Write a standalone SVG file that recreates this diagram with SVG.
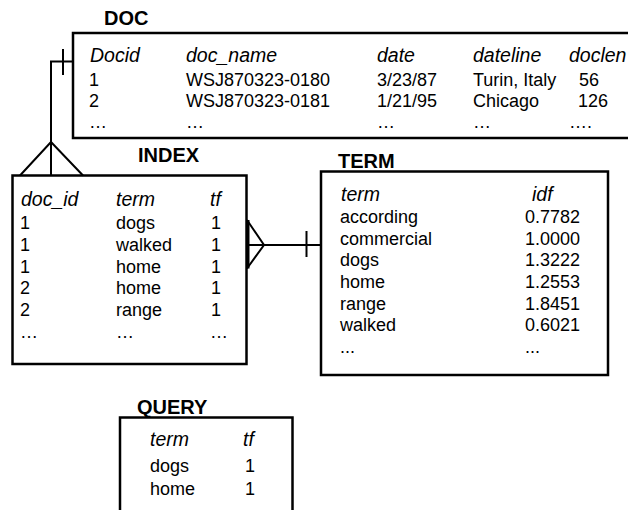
<svg xmlns="http://www.w3.org/2000/svg" width="628" height="510" viewBox="0 0 628 510">
<style>
.box{fill:#fff;stroke:#000;stroke-width:2.5}
.ln{fill:none;stroke:#000;stroke-width:2}
.t{font-family:"Liberation Sans",Arial,sans-serif;font-size:18px;fill:#000}
.h{font-family:"Liberation Sans",Arial,sans-serif;font-size:19.5px;font-style:italic;fill:#000}
.ttl{font-family:"Liberation Sans",Arial,sans-serif;font-size:20px;font-weight:bold;fill:#000}
</style>
<rect width="628" height="510" fill="#fff"/>
<g id="DOC">
<text class="ttl" x="104" y="25">DOC</text>
<rect class="box" x="73" y="33" width="570" height="105"/>
<text class="h" x="90" y="62">Docid</text>
<text class="h" x="186" y="62">doc_name</text>
<text class="h" x="377" y="62">date</text>
<text class="h" x="473" y="62">dateline</text>
<text class="h" x="569" y="62">doclen</text>
<text class="t" x="89" y="85.5">1</text>
<text class="t" x="186" y="85.5">WSJ870323-0180</text>
<text class="t" x="377" y="85.5">3/23/87</text>
<text class="t" x="473" y="85.5">Turin, Italy</text>
<text class="t" x="579" y="85.5">56</text>
<text class="t" x="89" y="107">2</text>
<text class="t" x="186" y="107">WSJ870323-0181</text>
<text class="t" x="377" y="107">1/21/95</text>
<text class="t" x="473" y="107">Chicago</text>
<text class="t" x="578" y="107">126</text>
<text class="t" x="89" y="128">…</text>
<text class="t" x="186" y="128">…</text>
<text class="t" x="377" y="128">…</text>
<text class="t" x="473" y="128">…</text>
<text class="t" x="569" y="128">….</text>
</g>
<g id="INDEX">
<text class="ttl" x="138" y="162">INDEX</text>
<rect class="box" x="12.5" y="175.5" width="234" height="188.5"/>
<text class="h" x="21" y="206">doc_id</text>
<text class="h" x="116" y="206">term</text>
<text class="h" x="210" y="206">tf</text>
<text class="t" x="20" y="229">1</text><text class="t" x="116" y="229">dogs</text><text class="t" x="211" y="229">1</text>
<text class="t" x="20" y="251">1</text><text class="t" x="116" y="251">walked</text><text class="t" x="211" y="251">1</text>
<text class="t" x="20" y="272.5">1</text><text class="t" x="116" y="272.5">home</text><text class="t" x="211" y="272.5">1</text>
<text class="t" x="20" y="294">2</text><text class="t" x="116" y="294">home</text><text class="t" x="211" y="294">1</text>
<text class="t" x="20" y="316">2</text><text class="t" x="116" y="316">range</text><text class="t" x="211" y="316">1</text>
<text class="t" x="20" y="338">…</text><text class="t" x="116" y="338">…</text><text class="t" x="210" y="338">…</text>
</g>
<g id="TERM">
<text class="ttl" x="338" y="168">TERM</text>
<rect class="box" x="321" y="171.5" width="287" height="203.5"/>
<text class="h" x="341" y="201">term</text>
<text class="h" x="532" y="201">idf</text>
<text class="t" x="340" y="223">according</text><text class="t" x="525" y="223">0.7782</text>
<text class="t" x="340" y="244.5">commercial</text><text class="t" x="525" y="244.5">1.0000</text>
<text class="t" x="340" y="266">dogs</text><text class="t" x="525" y="266">1.3222</text>
<text class="t" x="340" y="287.5">home</text><text class="t" x="525" y="287.5">1.2553</text>
<text class="t" x="340" y="309.5">range</text><text class="t" x="525" y="309.5">1.8451</text>
<text class="t" x="340" y="331">walked</text><text class="t" x="525" y="331">0.6021</text>
<text class="t" x="340" y="353">...</text><text class="t" x="525" y="353">...</text>
</g>
<g id="QUERY">
<text class="ttl" x="137" y="414">QUERY</text>
<rect class="box" x="120" y="417.5" width="172.5" height="110"/>
<text class="h" x="150" y="446">term</text>
<text class="h" x="243" y="446">tf</text>
<text class="t" x="150" y="472">dogs</text><text class="t" x="245" y="472">1</text>
<text class="t" x="150" y="495">home</text><text class="t" x="245" y="495">1</text>
</g>
<g id="connectors">
<path class="ln" d="M73 61.5 H51 V175.5"/>
<path class="ln" d="M63 49 V75"/>
<path class="ln" d="M20 175.5 L51 142 L83 175.5"/>
<path class="ln" d="M246.7 245 H321"/>
<path class="ln" d="M306.5 231 V257"/>
<path class="ln" d="M247 220 L264 245 L247 268.5"/>
<path class="ln" d="M248 220 V268.5" style="stroke-width:3"/>
</g>
</svg>
